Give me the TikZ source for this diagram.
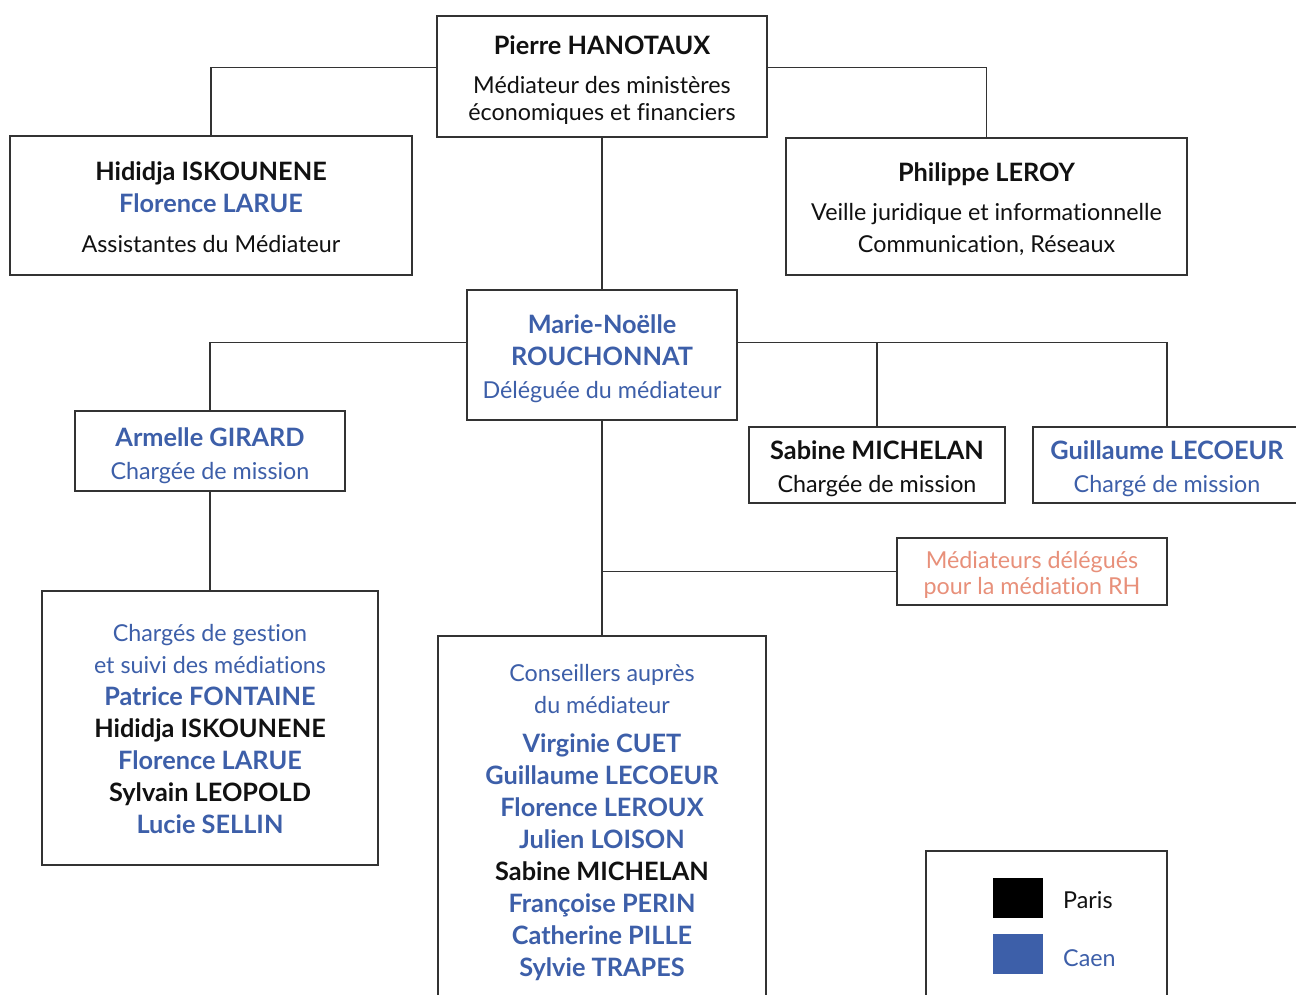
\documentclass[tikz,border=0pt]{standalone}
\usepackage{fontspec}
\usetikzlibrary{calc}
\setmainfont{Lato}[Ligatures=NoCommon]
\definecolor{cblue}{HTML}{3D5FA9}
\definecolor{csal}{HTML}{E8907A}
\definecolor{cline}{HTML}{333333}
\definecolor{ctext}{HTML}{111111}
\tikzset{
  box/.style={draw=cline, line width=1.2pt, rectangle, inner sep=0pt},
  conn/.style={draw=cline, line width=1.2pt},
  nm/.style={font=\fontsize{25.3}{28}\selectfont\bfseries, text=ctext, inner sep=0pt, anchor=center, text height=17pt, text depth=0pt, yshift=-1pt},
  nmb/.style={nm, text=cblue},
  tx/.style={font=\fontsize{23.3}{27}\selectfont, text=ctext, inner sep=0pt, anchor=center, text height=16pt, text depth=0pt, yshift=-1pt},
  txb/.style={tx, text=cblue},
  txs/.style={tx, text=csal},
}
\begin{document}
\begin{tikzpicture}[x=1pt,y=-1pt]
\useasboundingbox (0,0) rectangle (1296,994);
\clip (0,0) rectangle (1296,994);
\fill[white] (0,0) rectangle (1296,994);
% boxes
\node[box, minimum width=330, minimum height=121] (pierre) at (602,76.5) {};
\node[box, minimum width=402, minimum height=139] (hid) at (211,205.5) {};
\node[box, minimum width=401, minimum height=137] (phil) at (986.5,206.5) {};
\node[box, minimum width=270, minimum height=130] (marie) at (602,355) {};
\node[box, minimum width=270, minimum height=80] (arm) at (210,451) {};
\node[box, minimum width=256, minimum height=76] (sab) at (877,465) {};
\node[box, minimum width=268, minimum height=76] (gui) at (1167,465) {};
\node[box, minimum width=270, minimum height=67] (rh) at (1032,571.5) {};
\node[box, minimum width=336, minimum height=274] (charg) at (210,728) {};
\node[box, minimum width=328, minimum height=380] (cons) at (602,826) {};
\node[box, minimum width=241, minimum height=160] (leg) at (1046.5,931) {};
% connectors
\coordinate (pl) at ($(pierre.north west)+(0,52)$);
\coordinate (pr) at ($(pierre.north east)+(0,52)$);
\draw[conn] (pl) -| (hid.north);
\draw[conn] (pr) -| (phil.north);
\draw[conn] (pierre.south) -- (marie.north);
\coordinate (ml) at ($(marie.north west)+(0,53)$);
\coordinate (mr) at ($(marie.north east)+(0,53)$);
\draw[conn] (ml) -| (arm.north);
\draw[conn] (mr) -| (sab.north);
\draw[conn] (mr) -| (gui.north);
\draw[conn] (arm.south) -- (charg.north);
\draw[conn] (marie.south) -- (cons.north);
\coordinate (mb) at (marie.south |- rh.west);
\draw[conn] (mb) -- (rh.west);
% texts
\node[nm] (t1) at (602,45) {Pierre HANOTAUX};
\node[tx] (t2) at (602,84) {Médiateur des ministères};
\node[tx] (t3) at (602,111) {économiques et financiers};
\node[nm] (t4) at (211,171) {Hididja ISKOUNENE};
\node[nmb] (t5) at (211,203) {Florence LARUE};
\node[tx] (t6) at (211,243) {Assistantes du Médiateur};
\node[nm] (t7) at (986.5,172) {Philippe LEROY};
\node[tx] (t8) at (986.5,211) {Veille juridique et informationnelle};
\node[tx] (t9) at (986.5,243) {Communication, Réseaux};
\node[nmb] (t10) at (602,324) {Marie-Noëlle};
\node[nmb] (t11) at (602,356) {ROUCHONNAT};
\node[txb] (t12) at (602,389) {Déléguée du médiateur};
\node[nmb] (t13) at (210,437) {Armelle GIRARD};
\node[txb] (t14) at (210,470) {Chargée de mission};
\node[nm] (t15) at (877,450) {Sabine MICHELAN};
\node[tx] (t16) at (877,483) {Chargée de mission};
\node[nmb] (t17) at (1167,450) {Guillaume LECOEUR};
\node[txb] (t18) at (1167,483) {Chargé de mission};
\node[txs] (t19) at (1032,559) {Médiateurs délégués};
\node[txs] (t20) at (1032,585) {pour la médiation RH};
\node[txb] (c1) at (210,632) {Chargés de gestion};
\node[txb] (c2) at (210,664) {et suivi des médiations};
\node[nmb] (c3) at (210,696) {Patrice FONTAINE};
\node[nm] (c4) at (210,728) {Hididja ISKOUNENE};
\node[nmb] (c5) at (210,760) {Florence LARUE};
\node[nm] (c6) at (210,792) {Sylvain LEOPOLD};
\node[nmb] (c7) at (210,824) {Lucie SELLIN};
\node[txb] (d1) at (602,672) {Conseillers auprès};
\node[txb] (d2) at (602,704) {du médiateur};
\node[nmb] (d3) at (602,743) {Virginie CUET};
\node[nmb] (d4) at (602,775) {Guillaume LECOEUR};
\node[nmb] (d5) at (602,807) {Florence LEROUX};
\node[nmb] (d6) at (602,839) {Julien LOISON};
\node[nm] (d7) at (602,871) {Sabine MICHELAN};
\node[nmb] (d8) at (602,903) {Françoise PERIN};
\node[nmb] (d9) at (602,935) {Catherine PILLE};
\node[nmb] (d10) at (602,967) {Sylvie TRAPES};
% legend
\node[fill=black, minimum width=50, minimum height=40, inner sep=0pt] (sq1) at (1018,898) {};
\node[fill=cblue, minimum width=50, minimum height=40, inner sep=0pt] (sq2) at (1018,953.5) {};
\node[tx, anchor=west] (l1) at (1063,899) {Paris};
\node[txb, anchor=west] (l2) at (1063,957) {Caen};
\end{tikzpicture}
\end{document}
